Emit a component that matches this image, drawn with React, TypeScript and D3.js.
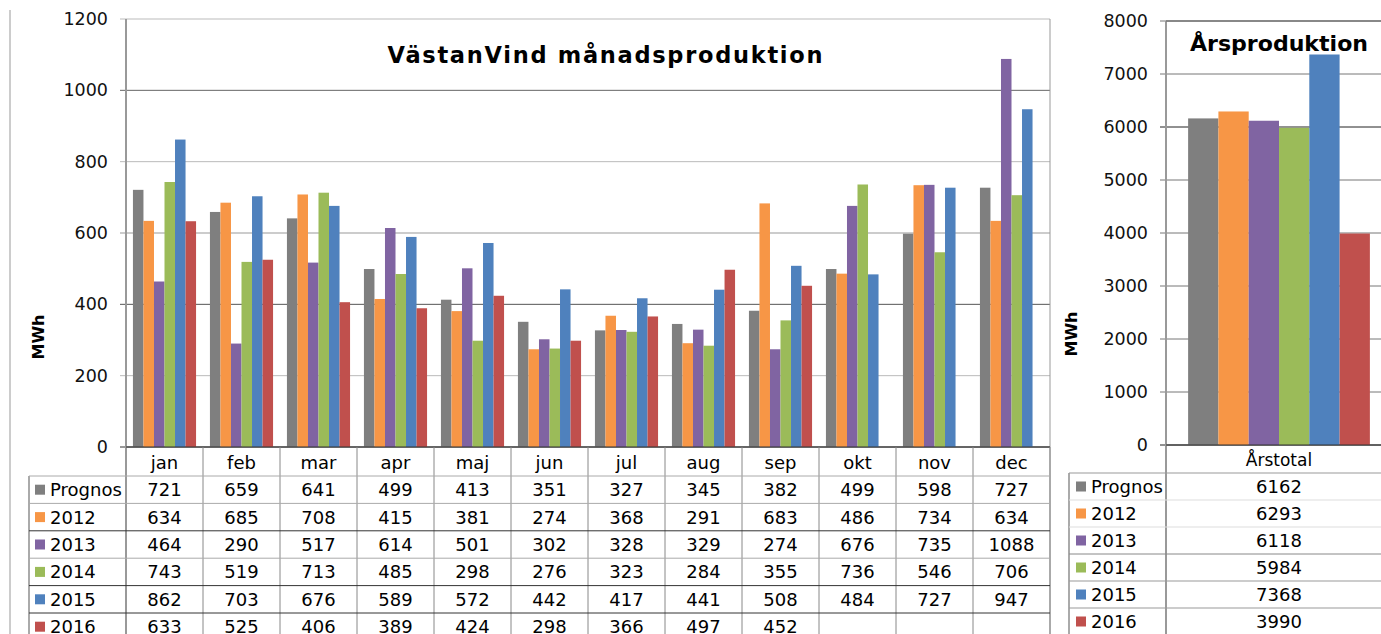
import React from "react";
import * as d3 from "d3";

// månadsvärden, MWh
const months = ["jan", "feb", "mar", "apr", "maj", "jun", "jul", "aug", "sep", "okt", "nov", "dec"];
const seriesNames = ["Prognos", "2012", "2013", "2014", "2015", "2016"];
const colors = ["#7f7f7f", "#f79646", "#8064a2", "#9bbb59", "#4f81bd", "#c0504d"];

const prognos = [721, 659, 641, 499, 413, 351, 327, 345, 382, 499, 598, 727];
const y2012 = [634, 685, 708, 415, 381, 274, 368, 291, 683, 486, 734, 634];
const y2013 = [464, 290, 517, 614, 501, 302, 328, 329, 274, 676, 735, 1088];
const y2014 = [743, 519, 713, 485, 298, 276, 323, 284, 355, 736, 546, 706];
const y2015 = [862, 703, 676, 589, 572, 442, 417, 441, 508, 484, 727, 947];
const y2016 = [633, 525, 406, 389, 424, 298, 366, 497, 452, null, null, null];

const totals = [6162, 6293, 6118, 5984, 7368, 3990];
const monthTicks = [0, 200, 400, 600, 800, 1000, 1200];
const yearTicks = [0, 1000, 2000, 3000, 4000, 5000, 6000, 7000, 8000];

const allSeries = [prognos, y2012, y2013, y2014, y2015, y2016];

const FONT = "DejaVu Sans, Verdana, sans-serif";

export default function App() {
  // vänster diagram
  const x0 = d3.scaleBand<string>().domain(months).range([126, 1050]);
  const x1 = d3.scaleBand<string>().domain(seriesNames).range([0, x0.bandwidth()]).paddingOuter(0.66);
  const y = d3.scaleLinear().domain([0, 1200]).range([447, 19]);
  const rowY = d3.scaleBand<string>().domain(seriesNames).range([476, 476 + 27.4 * 6]);

  // höger diagram
  const xr = d3.scaleBand<string>().domain(["Årstotal"]).range([1166, 1392]);
  const xr1 = d3.scaleBand<string>().domain(seriesNames).range([xr("Årstotal")!, xr("Årstotal")! + xr.bandwidth()]).paddingOuter(0.73);
  const yr = d3.scaleLinear().domain([0, 8000]).range([445, 21]);
  const rowYr = d3.scaleBand<string>().domain(seriesNames).range([473, 473 + 27 * 6]);

  const gridColorL = ["#444", "#bbb", "#555", "#999", "#bbb", "#666", "#bbb"];
  const rowLineL = ["#aaa", "#aaa", "#333", "#aaa", "#333", "#333"];
  const rowLineR = ["#999", "#ddd", "#ddd", "#888", "#999", "#999"];

  return (
    <svg width={1381} height={634} style={{ position: "absolute", left: 0, top: 0, background: "#fff" }} fontFamily={FONT}>
      <line x1={10} x2={10} y1={10} y2={634} stroke="#999" />

      {/* rutnät vänster */}
      {monthTicks.map((t, i) => (
        <g key={"gl" + t}>
          <line x1={120} x2={1050} y1={y(t)} y2={y(t)} stroke={t === 0 ? "#333" : gridColorL[i]} />
          <text x={108} y={y(t)} textAnchor="end" dominantBaseline="central" fontSize={17.5} fill="#111">{t}</text>
        </g>
      ))}
      <line x1={1050} x2={1050} y1={19} y2={634} stroke="#999" />

      {/* staplar vänster */}
      {months.map((m, mi) => (
        <g key={m} transform={`translate(${x0(m)},0)`}>
          {allSeries.map((s, si) =>
            s[mi] == null ? null : (
              <rect key={si} x={x1(seriesNames[si])} y={y(s[mi] as number)} width={x1.bandwidth()} height={y(0) - y(s[mi] as number)} fill={colors[si]} />
            )
          )}
        </g>
      ))}
      <line x1={126} x2={126} y1={19} y2={634} stroke="#999" strokeWidth={2} />
      <line x1={126} x2={1050} y1={447} y2={447} stroke="#333" />

      <text x={605} y={63} textAnchor="middle" fontSize={22.5} fontWeight="bold" textLength={435} lengthAdjust="spacing">VästanVind månadsproduktion</text>
      <text transform="translate(38,337) rotate(-90)" textAnchor="middle" dominantBaseline="central" fontSize={16} fontWeight="bold">MWh</text>

      {/* datatabell vänster */}
      {months.map((m) => (
        <g key={"h" + m}>
          <line x1={(x0(m) as number) + x0.bandwidth()} x2={(x0(m) as number) + x0.bandwidth()} y1={447} y2={634} stroke="#888" />
          <text x={(x0(m) as number) + x0.bandwidth() / 2} y={462} textAnchor="middle" dominantBaseline="central" fontSize={18}>{m}</text>
        </g>
      ))}
      <line x1={29} x2={29} y1={476} y2={634} stroke="#aaa" strokeWidth={2} />
      {seriesNames.map((n, si) => {
        const top = rowY(n) as number;
        const cy = top + rowY.bandwidth() / 2;
        return (
          <g key={"r" + n}>
            <line x1={29} x2={1050} y1={top} y2={top} stroke={rowLineL[si]} />
            <rect x={35} y={cy - 5} width={10} height={10} fill={colors[si]} />
            <text x={50} y={cy} dominantBaseline="central" fontSize={18}>{n}</text>
            {months.map((m, mi) =>
              allSeries[si][mi] == null ? null : (
                <text key={m} x={(x0(m) as number) + x0.bandwidth() / 2} y={cy} textAnchor="middle" dominantBaseline="central" fontSize={18}>{allSeries[si][mi]}</text>
              )
            )}
          </g>
        );
      })}

      {/* höger diagram */}
      {yearTicks.map((t) => (
        <g key={"gr" + t}>
          <line x1={1160} x2={1392} y1={yr(t)} y2={yr(t)} stroke={t === 0 || t === 6000 ? "#222" : "#777"} />
          <text x={1148} y={yr(t)} textAnchor="end" dominantBaseline="central" fontSize={17.5} fill="#111">{t}</text>
        </g>
      ))}
      {totals.map((v, si) => (
        <rect key={"t" + si} x={xr1(seriesNames[si])} y={yr(v)} width={xr1.bandwidth()} height={yr(0) - yr(v)} fill={colors[si]} />
      ))}
      <line x1={1166} x2={1166} y1={21} y2={634} stroke="#999" strokeWidth={2} />
      <line x1={1166} x2={1392} y1={445} y2={445} stroke="#333" />
      <line x1={1166} x2={1392} y1={21} y2={21} stroke="#777" strokeWidth={1.5} />

      <text x={1279} y={51} textAnchor="middle" fontSize={22} fontWeight="bold" textLength={178} lengthAdjust="spacingAndGlyphs">Årsproduktion</text>
      <text transform="translate(1071,334) rotate(-90)" textAnchor="middle" dominantBaseline="central" fontSize={16} fontWeight="bold">MWh</text>
      <text x={1279} y={460} textAnchor="middle" dominantBaseline="central" fontSize={17}>Årstotal</text>

      <line x1={1069} x2={1069} y1={473} y2={634} stroke="#aaa" strokeWidth={2} />
      {seriesNames.map((n, si) => {
        const top = rowYr(n) as number;
        const cy = top + rowYr.bandwidth() / 2;
        return (
          <g key={"rr" + n}>
            <line x1={1069} x2={1392} y1={top} y2={top} stroke={rowLineR[si]} />
            <rect x={1076} y={cy - 5} width={10} height={10} fill={colors[si]} />
            <text x={1091} y={cy} dominantBaseline="central" fontSize={18}>{n}</text>
            <text x={1279} y={cy} textAnchor="middle" dominantBaseline="central" fontSize={18}>{totals[si]}</text>
          </g>
        );
      })}
    </svg>
  );
}
